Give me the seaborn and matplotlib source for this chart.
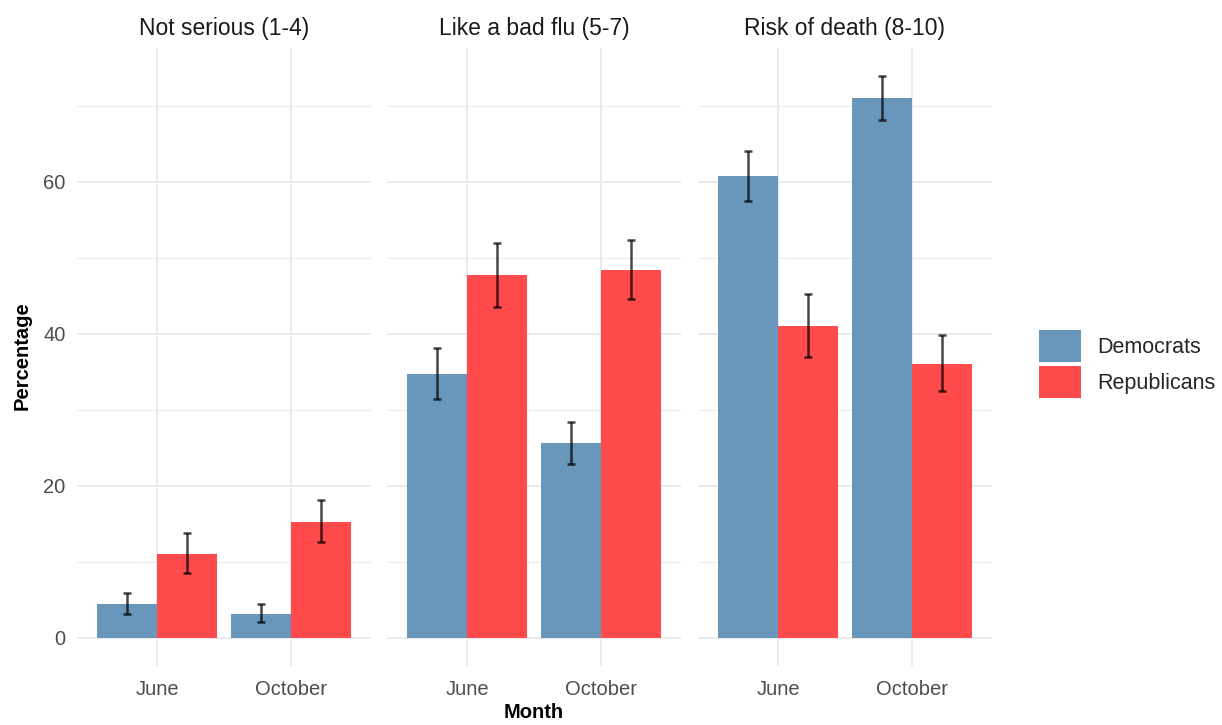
import matplotlib
matplotlib.use("Agg")
import matplotlib.pyplot as plt
import seaborn as sns
import pandas as pd
import numpy as np

# values
panels = ["Not serious (1-4)", "Like a bad flu (5-7)", "Risk of death (8-10)"]
months = ["June", "October"]
parties = ["Democrats", "Republicans"]

dem_pct = [[4.5, 3.2], [34.7, 25.6], [60.8, 71.1]]
dem_lo = [[3.1, 2.1], [31.5, 22.9], [57.5, 68.2]]
dem_hi = [[5.9, 4.5], [38.1, 28.4], [64.1, 74.0]]

rep_pct = [[11.1, 15.3], [47.7, 48.4], [41.1, 36.1]]
rep_lo = [[8.5, 12.6], [43.6, 44.6], [37.0, 32.5]]
rep_hi = [[13.8, 18.2], [52.0, 52.4], [45.3, 39.9]]

colors = {"Democrats": "#6897BB", "Republicans": "#FF4B4B"}

rows = []
for i, p in enumerate(panels):
    for j, m in enumerate(months):
        rows.append([p, m, "Democrats", dem_pct[i][j], dem_lo[i][j], dem_hi[i][j]])
        rows.append([p, m, "Republicans", rep_pct[i][j], rep_lo[i][j], rep_hi[i][j]])
df = pd.DataFrame(rows, columns=["panel", "month", "party", "pct", "lo", "hi"])

sns.set_style("white")
plt.rcParams["font.family"] = ["Liberation Sans", "DejaVu Sans"]

W, H = 1222, 725
fig = plt.figure(figsize=(W / 100, H / 100), dpi=100)

ymax = df["hi"].max() * 1.05
ymin = -df["hi"].max() * 0.05
lefts = [76.6, 386.6, 697.6]
pw = 294.8
top_px, bot_px = 47.5, 666

axes = []
for k, p in enumerate(panels):
    ax = fig.add_axes([lefts[k] / W, (H - bot_px) / H, pw / W, (bot_px - top_px) / H])
    sub = df[df["panel"] == p]
    sns.barplot(data=sub, x="month", y="pct", hue="party", order=months,
                hue_order=parties, palette=colors, errorbar=None, width=0.9,
                saturation=1, linewidth=0, ax=ax, zorder=2)
    for cont, party in zip(ax.containers, parties):
        s = sub[sub["party"] == party].set_index("month").loc[months]
        xs = [b.get_x() + b.get_width() / 2 for b in cont]
        ax.errorbar(xs, s["pct"], yerr=[s["pct"] - s["lo"], s["hi"] - s["pct"]],
                    fmt="none", ecolor="black", alpha=0.72, elinewidth=1.8,
                    capsize=3, capthick=1.8, zorder=3)
    ax.set_xlim(-0.6, 1.6)
    ax.set_ylim(ymin, ymax)
    ax.set_yticks([0, 20, 40, 60])
    ax.set_yticks([10, 30, 50, 70], minor=True)
    ax.grid(True, which="major", color="#EBEBEB", linewidth=1.4, zorder=0)
    ax.grid(True, which="minor", axis="y", color="#EBEBEB", linewidth=0.75, zorder=0)
    ax.set_axisbelow(True)
    for sp in ax.spines.values():
        sp.set_visible(False)
    ax.tick_params(axis="both", length=0, labelsize=14.5, labelcolor="#4D4D4D")
    ax.tick_params(axis="x", pad=10)
    ax.tick_params(axis="y", pad=8)
    if k > 0:
        ax.tick_params(axis="y", labelleft=False)
    ax.set_xlabel("")
    ax.set_ylabel("")
    ax.set_title(p, fontsize=16.5, color="#1A1A1A", pad=9)
    ax.get_legend().remove()
    axes.append(ax)

handles, labels = axes[0].get_legend_handles_labels()
fig.legend(handles, labels, loc="center left", bbox_to_anchor=(1022 / W, (H - 364) / H),
           frameon=False, fontsize=15.5, handlelength=1.95, handleheight=1.95,
           labelspacing=0.15, handletextpad=0.75, borderpad=0.3)

fig.text(22 / W, (H - 356) / H, "Percentage", rotation=90, ha="center", va="center",
         fontsize=14.5, fontweight="bold", color="black")
fig.text(534 / W, (H - 713) / H, "Month", ha="center", va="center",
         fontsize=14.5, fontweight="bold", color="black")

fig.savefig("out.png", dpi=100, facecolor="white")
